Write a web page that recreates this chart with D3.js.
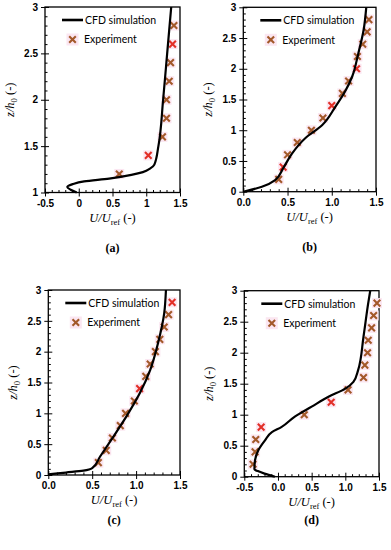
<!DOCTYPE html>
<html>
<head>
<meta charset="utf-8">
<style>
  body { margin: 0; background: #fff; }
  .tick text { font-family: "Liberation Sans", Arial, sans-serif; font-size: 10px; font-weight: bold; fill: #000; }
  .tick line { stroke: #000; stroke-width: 1; }
</style>
</head>
<body>
<div id="vis"></div>
<script src="https://d3js.org/d3.v7.min.js"></script>
<script>
// values: U/Uref (u) against z/h0 (z)

// (a)
const cfdA_u = [-0.03, -0.12, -0.17, -0.09, 0.08, 0.45, 0.78, 0.95, 1.06, 1.12, 1.18, 1.25, 1.31, 1.37];
const cfdA_z = [1.0, 1.03, 1.06, 1.09, 1.12, 1.15, 1.19, 1.22, 1.26, 1.30, 1.5, 2.0, 2.5, 3.0];
const expA_u = [0.60, 1.03, 1.24, 1.30, 1.30, 1.34, 1.36, 1.39, 1.41];
const expA_z = [1.2, 1.4, 1.6, 1.8, 2.0, 2.2, 2.4, 2.6, 2.8];
const expA_red = [1, 7];

// (b)
const cfdB_u = [0, 0.21, 0.36, 0.45, 0.55, 0.70, 0.89, 1.04, 1.15, 1.23, 1.30, 1.36, 1.39];
const cfdB_z = [0, 0.08, 0.19, 0.38, 0.62, 0.87, 1.08, 1.38, 1.63, 1.87, 2.25, 2.63, 3.0];
const expB_u = [0.40, 0.45, 0.50, 0.61, 0.77, 0.90, 1.00, 1.12, 1.19, 1.28, 1.29, 1.35, 1.40, 1.42];
const expB_z = [0.2, 0.4, 0.6, 0.8, 1.0, 1.2, 1.4, 1.6, 1.8, 2.0, 2.2, 2.4, 2.6, 2.8];
const expB_red = [1, 6, 9];

// (c)
const cfdC_u = [0, 0.2, 0.4, 0.5, 0.59, 0.74, 0.89, 1.04, 1.16, 1.25, 1.32, 1.34];
const cfdC_z = [0.01, 0.04, 0.07, 0.11, 0.30, 0.62, 0.95, 1.32, 1.70, 2.14, 2.62, 3.0];
const expC_u = [0.57, 0.66, 0.73, 0.82, 0.88, 0.98, 1.04, 1.11, 1.16, 1.22, 1.27, 1.32, 1.37, 1.41];
const expC_z = [0.2, 0.4, 0.6, 0.8, 1.0, 1.2, 1.4, 1.6, 1.8, 2.0, 2.2, 2.4, 2.6, 2.8];
const expC_red = [6, 13];

// (d)
const cfdD_u = [-0.045, -0.20, -0.30, -0.35, -0.34, -0.29, -0.19, -0.09, 0.05, 0.25, 0.50, 0.75, 1.0, 1.12, 1.19, 1.27, 1.34, 1.37];
const cfdD_z = [0, 0.05, 0.09, 0.12, 0.27, 0.43, 0.59, 0.72, 0.80, 0.97, 1.13, 1.29, 1.42, 1.53, 1.72, 2.26, 2.8, 3.0];
const expD_u = [-0.37, -0.34, -0.33, -0.25, 0.39, 0.79, 1.04, 1.27, 1.29, 1.33, 1.34, 1.39, 1.42, 1.47];
const expD_z = [0.2, 0.4, 0.6, 0.8, 1.0, 1.2, 1.4, 1.6, 1.8, 2.0, 2.2, 2.4, 2.6, 2.8];
const expD_red = [3, 5];

// tick labels
const xTicksNeg = [-0.5, 0, 0.5, 1, 1.5];
const xLabelsA = ["-0.5", "0", "0.5", "1", "1.5"];
const xLabelsD = ["-0.5", "0.0", "0.5", "1.0", "1.5"];
const xTicksPos = [0, 0.5, 1, 1.5];
const xLabelsPos = ["0.0", "0.5", "1.0", "1.5"];
const yTicksA = [1, 1.5, 2, 2.5, 3];
const yLabelsA = ["1", "1.5", "2", "2.5", "3"];
const yTicksFull = [0, 0.5, 1, 1.5, 2, 2.5, 3];
const yLabelsFull = ["0", "0.5", "1", "1.5", "2", "2.5", "3"];
const captions = ["(a)", "(b)", "(c)", "(d)"];

const brown = "#a3592a", red = "#e23028";

const panels = [
  {left: 45, top: 7, right: 180, bottom: 192.5, xDom: [-0.5, 1.5], yDom: [1, 3],
   xT: xTicksNeg, xL: xLabelsA, yT: yTicksA, yL: yLabelsA,
   cu: cfdA_u, cz: cfdA_z, eu: expA_u, ez: expA_z, er: expA_red, capY: 252},
  {left: 243.3, top: 7.3, right: 376, bottom: 191.7, xDom: [0, 1.5], yDom: [0, 3],
   xT: xTicksPos, xL: xLabelsPos, yT: yTicksFull, yL: yLabelsFull,
   cu: cfdB_u, cz: cfdB_z, eu: expB_u, ez: expB_z, er: expB_red, capY: 251},
  {left: 48.3, top: 290, right: 180, bottom: 475, xDom: [0, 1.5], yDom: [0, 3],
   xT: xTicksPos, xL: xLabelsPos, yT: yTicksFull, yL: yLabelsFull,
   cu: cfdC_u, cz: cfdC_z, eu: expC_u, ez: expC_z, er: expC_red, capY: 524},
  {left: 244.3, top: 290.7, right: 379, bottom: 476.7, xDom: [-0.5, 1.5], yDom: [0, 3],
   xT: xTicksNeg, xL: xLabelsD, yT: yTicksFull, yL: yLabelsFull,
   cu: cfdD_u, cz: cfdD_z, eu: expD_u, ez: expD_z, er: expD_red, capY: 524}
];

const svg = d3.select("#vis").append("svg")
  .attr("width", 391).attr("height", 550);

const crossPath = "M-3.3,-3.3L3.3,3.3M-3.3,3.3L3.3,-3.3";

panels.forEach(function (p, k) {
  let x = d3.scaleLinear().domain(p.xDom).range([p.left, p.right]);
  let y = d3.scaleLinear().domain(p.yDom).range([p.bottom, p.top]);

  let near = (arr) => (v) => !arr.some(t => Math.abs(t - v) < 1e-6);
  let xMinor = d3.range(p.xDom[0], p.xDom[1] + 1e-6, 0.1).filter(near(p.xT));
  let yMinor = d3.range(p.yDom[0], p.yDom[1] + 1e-6, 0.1).filter(near(p.yT));

  let g = svg.append("g");

  // bottom axis: outward major ticks with labels, inward major + minor ticks
  let bx = g.append("g").attr("transform", "translate(0," + p.bottom + ")");
  bx.append("g").call(d3.axisBottom(x).tickValues(p.xT)
    .tickFormat((d, i) => p.xL[i]).tickSizeInner(4).tickSizeOuter(0).tickPadding(3));
  bx.append("g").call(d3.axisBottom(x).tickValues(p.xT).tickFormat("").tickSizeInner(-4).tickSizeOuter(0));
  bx.append("g").call(d3.axisBottom(x).tickValues(xMinor).tickFormat("").tickSizeInner(-2.5).tickSizeOuter(0));

  let ly = g.append("g").attr("transform", "translate(" + p.left + ",0)");
  ly.append("g").call(d3.axisLeft(y).tickValues(p.yT)
    .tickFormat((d, i) => p.yL[i]).tickSizeInner(4).tickSizeOuter(0).tickPadding(3));
  ly.append("g").call(d3.axisLeft(y).tickValues(p.yT).tickFormat("").tickSizeInner(-4).tickSizeOuter(0));
  ly.append("g").call(d3.axisLeft(y).tickValues(yMinor).tickFormat("").tickSizeInner(-2.5).tickSizeOuter(0));

  g.selectAll(".domain").remove();

  // frame
  g.append("rect")
    .attr("x", p.left).attr("y", p.top)
    .attr("width", p.right - p.left).attr("height", p.bottom - p.top)
    .attr("fill", "none").attr("stroke", "#000").attr("stroke-width", 1.3);

  // experiment markers
  let pts = p.eu.map((u, i) => ({u: u, z: p.ez[i], red: p.er.includes(i)}));
  let mk = g.append("g").selectAll("g").data(pts).enter().append("g")
    .attr("transform", d => "translate(" + x(d.u) + "," + y(d.z) + ")");
  mk.append("rect").attr("x", -5).attr("y", -5).attr("width", 10).attr("height", 10)
    .attr("fill", "#fbe6f1");
  mk.append("path").attr("d", crossPath)
    .attr("stroke", d => d.red ? red : brown).attr("stroke-width", 2.1).attr("fill", "none");

  // CFD line
  let line = d3.line().x(d => x(d[0])).y(d => y(d[1])).curve(d3.curveMonotoneY);
  g.append("path")
    .datum(p.cu.map((u, i) => [u, p.cz[i]]))
    .attr("d", line)
    .attr("fill", "none").attr("stroke", "#000").attr("stroke-width", 2.2);

  // legend
  let lx = p.left + 17, lyy = p.top + 13;
  g.append("line").attr("x1", lx).attr("x2", lx + 21).attr("y1", lyy).attr("y2", lyy)
    .attr("stroke", "#000").attr("stroke-width", 2.6);
  g.append("text").attr("x", lx + 23).attr("y", lyy + 3.8)
    .style("font-family", "Lato, 'Liberation Sans', sans-serif").style("font-size", "10.5px")
    .text("CFD simulation");
  let lm = g.append("g").attr("transform", "translate(" + (lx + 10.5) + "," + (lyy + 19.5) + ")");
  lm.append("rect").attr("x", -6).attr("y", -6).attr("width", 12).attr("height", 12).attr("fill", "#fbe6f1");
  lm.append("path").attr("d", crossPath).attr("stroke", brown).attr("stroke-width", 2.1);
  g.append("text").attr("x", lx + 22).attr("y", lyy + 23.3)
    .style("font-family", "Lato, 'Liberation Sans', sans-serif").style("font-size", "10.5px")
    .text("Experiment");

  // x title
  let xt = g.append("text")
    .attr("x", (p.left + p.right) / 2).attr("y", p.bottom + 29)
    .attr("text-anchor", "middle")
    .style("font-family", "'Liberation Serif', 'Times New Roman', serif").style("font-size", "12.5px");
  xt.append("tspan").style("font-style", "italic").text("U/U");
  xt.append("tspan").attr("dy", 3).style("font-size", "8.5px").text("ref");
  xt.append("tspan").attr("dy", -3).text(" (-)");

  // y title
  let yt = g.append("text")
    .attr("transform", "translate(" + (p.left - 31) + "," + ((p.top + p.bottom) / 2) + ") rotate(-90)")
    .attr("text-anchor", "middle")
    .style("font-family", "'Liberation Serif', 'Times New Roman', serif").style("font-size", "12.5px");
  yt.append("tspan").style("font-style", "italic").text("z/h");
  yt.append("tspan").attr("dy", 3).style("font-size", "8.5px").text("0");
  yt.append("tspan").attr("dy", -3).text(" (-)");

  // caption
  g.append("text")
    .attr("x", (p.left + p.right) / 2).attr("y", p.capY)
    .attr("text-anchor", "middle")
    .style("font-family", "'Liberation Serif', serif").style("font-size", "12px").style("font-weight", "bold")
    .text(captions[k]);
});
</script>
</body>
</html>
